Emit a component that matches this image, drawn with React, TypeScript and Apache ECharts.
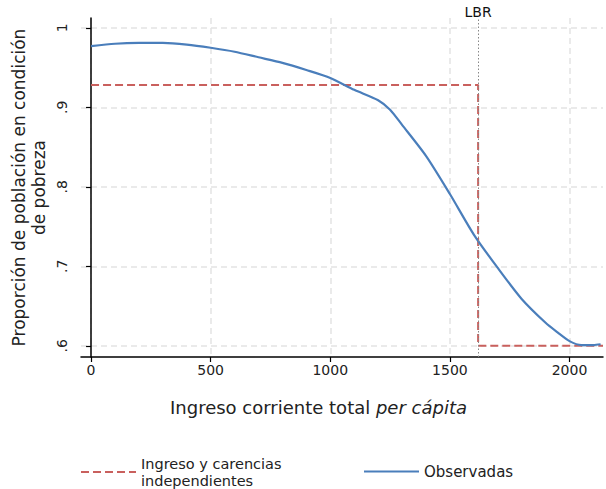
import React, { useEffect, useRef } from "react";
import * as echarts from "echarts";

const xTicks = [0, 500, 1000, 1500, 2000];
const yTicks = [0.6, 0.7, 0.8, 0.9, 1];
const yTickLabels = [".6", ".7", ".8", ".9", "1"];

const obsX = [0, 100, 200, 300, 400, 500, 600, 700, 800, 900, 1000, 1100, 1200, 1250, 1300, 1400, 1500, 1600, 1700, 1800, 1900, 1950, 2000, 2050, 2100, 2130];
const obsY = [0.977, 0.980, 0.981, 0.981, 0.979, 0.975, 0.970, 0.963, 0.956, 0.947, 0.937, 0.922, 0.909, 0.897, 0.878, 0.839, 0.791, 0.740, 0.698, 0.659, 0.629, 0.617, 0.606, 0.601, 0.601, 0.602];

const indepX = [0, 1618, 1618, 2140];
const indepY = [0.928, 0.928, 0.6, 0.6];

const lbr = 1618;

const FONT = "DejaVu Sans";

export default function App() {
  const ref = useRef<HTMLDivElement>(null);
  useEffect(() => {
    if (!ref.current) return;
    const chart = echarts.init(ref.current, null, { renderer: "svg" });
    const grey = "#e3e3e3";
    chart.setOption({
      animation: false,
      textStyle: { fontFamily: FONT },
      grid: { left: 81, right: 3, top: 18, bottom: 132, containLabel: false, outerBoundsMode: "none" },
      legend: [
        {
          left: 75,
          top: 450,
          itemWidth: 55,
          itemHeight: 14,
          itemGap: 5,
          itemStyle: { opacity: 0 },
          data: ["Ingreso y carencias\nindependientes"],
          textStyle: { fontFamily: FONT, fontSize: 14.5, color: "#222", lineHeight: 17 },
        },
        {
          left: 358,
          top: 459,
          itemWidth: 55,
          itemHeight: 14,
          itemGap: 5,
          itemStyle: { opacity: 0 },
          data: ["Observadas"],
          textStyle: { fontFamily: FONT, fontSize: 15, color: "#222" },
        },
      ],
      xAxis: {
        type: "value",
        min: -42,
        max: 2140,
        name: "Ingreso corriente total {i|per cápita}",
        nameLocation: "middle",
        nameGap: 41,
        nameTextStyle: {
          fontFamily: FONT,
          fontSize: 18,
          color: "#222",
          padding: [0, 47, 0, 0],
          rich: { i: { fontStyle: "italic", fontFamily: FONT, fontSize: 18, color: "#222" } },
        },
        axisLine: { show: true, lineStyle: { color: "#000", width: 1.5 } },
        axisTick: { show: true, length: 5, customValues: xTicks, lineStyle: { color: "#000", width: 1.2 } },
        axisLabel: { customValues: xTicks, fontSize: 14, color: "#222", margin: 6, fontFamily: FONT, formatter: (v: number) => String(v) },
        splitLine: { show: true, lineStyle: { color: grey, width: 1.5, type: [6, 4] } },
      },
      yAxis: {
        type: "value",
        min: 0.586,
        max: 1.0124,
        name: "Proporción de población en condición\nde pobreza",
        nameLocation: "middle",
        nameRotate: 90,
        nameGap: 32,
        nameMoveOverlap: false,
        nameTextStyle: { fontFamily: FONT, fontSize: 17, color: "#222", lineHeight: 20, align: "center" },
        axisLine: { show: true, lineStyle: { color: "#000", width: 1.5 } },
        axisTick: { show: true, length: 5, customValues: yTicks, lineStyle: { color: "#000", width: 1.2 } },
        axisLabel: {
          customValues: yTicks,
          rotate: 90,
          fontSize: 14,
          color: "#222",
          margin: 12,
          fontFamily: FONT,
          formatter: (v: number) => {
            const i = yTicks.findIndex((t) => Math.abs(t - v) < 1e-6);
            return i >= 0 ? yTickLabels[i] : "";
          },
        },
        splitLine: { show: true, lineStyle: { color: grey, width: 1.5, type: [6, 4] } },
      },
      series: [
        {
          name: "Ingreso y carencias\nindependientes",
          type: "line",
          symbol: "none",
          data: indepX.map((x, i) => [x, indepY[i]]),
          lineStyle: { color: "#c9605d", width: 2, type: [8, 4] },
          itemStyle: { color: "#c9605d" },
          z: 3,
          markLine: {
            silent: true,
            symbol: "none",
            lineStyle: { color: "#888", width: 1, type: [1.5, 2] },
            label: { show: true, position: "end", formatter: "LBR", fontSize: 14, color: "#111", fontFamily: FONT, distance: -1 },
            data: [{ xAxis: lbr }],
          },
        },
        {
          name: "Observadas",
          type: "line",
          symbol: "none",
          smooth: 0.25,
          data: obsX.map((x, i) => [x, obsY[i]]),
          lineStyle: { color: "#4a7ebb", width: 2.2 },
          itemStyle: { color: "#4a7ebb" },
          z: 4,
        },
      ],
    });
    return () => chart.dispose();
  }, []);
  return <div ref={ref} style={{ width: 606, height: 489, position: "absolute", left: 0, top: 0 }} />;
}
